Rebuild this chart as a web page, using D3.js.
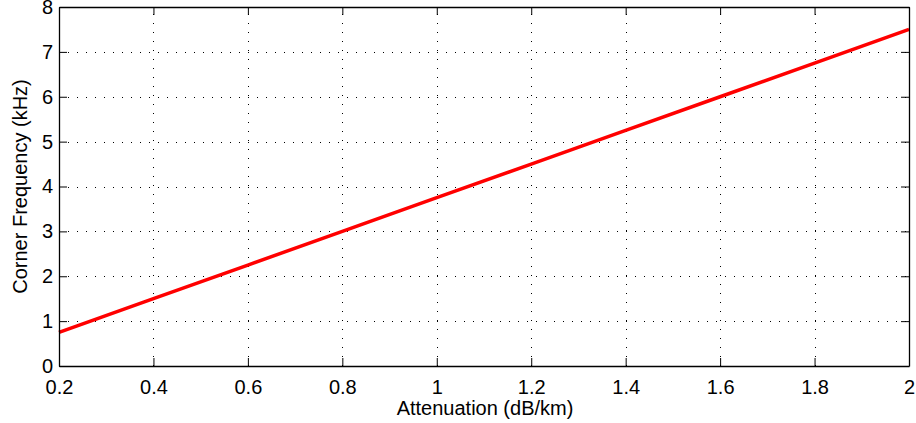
<!DOCTYPE html>
<html>
<head>
<meta charset="utf-8">
<script src="https://cdn.jsdelivr.net/npm/d3@7"></script>
<style>
  html, body { margin: 0; padding: 0; background: #fff; }
  svg text { font-family: "Liberation Sans", Arial, Helvetica, sans-serif; fill: #000; }
</style>
</head>
<body>
<svg id="chart" width="916" height="423"></svg>
<script>
// Corner frequency versus attenuation
const attenuation = [0.2, 0.4, 0.6, 0.8, 1.0, 1.2, 1.4, 1.6, 1.8, 2.0];
const cornerFreq  = [0.75, 1.5, 2.25, 3.0, 3.75, 4.5, 5.25, 6.0, 6.75, 7.5];
const xTicks = [0.2, 0.4, 0.6, 0.8, 1, 1.2, 1.4, 1.6, 1.8, 2];
const yTicks = [0, 1, 2, 3, 4, 5, 6, 7, 8];

const margin = { left: 59, right: 7, top: 7, bottom: 57 };
const W = 916, H = 423;
const fontSize = 20;
const svg = d3.select("#chart");

const x = d3.scaleLinear().domain([0.2, 2]).range([margin.left, W - margin.right]);
const y = d3.scaleLinear().domain([0, 8]).range([H - margin.bottom, margin.top]);

const x0 = x.range()[0], x1 = x.range()[1];
const y0 = y.range()[0], y1 = y.range()[1];

// dotted grid
const grid = svg.append("g").attr("stroke", "#000").attr("stroke-width", 1)
  .attr("stroke-dasharray", "1,8").attr("shape-rendering", "crispEdges");
grid.selectAll("line.vx").data(xTicks.slice(1, -1)).join("line")
  .attr("x1", d => Math.round(x(d)) + 0.5).attr("x2", d => Math.round(x(d)) + 0.5)
  .attr("y1", y0).attr("y2", y1);
grid.selectAll("line.hy").data(yTicks.slice(1, -1)).join("line")
  .attr("x1", x0).attr("x2", x1)
  .attr("y1", d => Math.round(y(d)) + 0.5).attr("y2", d => Math.round(y(d)) + 0.5);

// data line
const line = d3.line().x((d, i) => x(attenuation[i])).y(d => y(d));
svg.append("path").datum(cornerFreq)
  .attr("d", line).attr("fill", "none")
  .attr("stroke", "#ff0000").attr("stroke-width", 3.5);

// axes with inward ticks on all four sides
const tickLen = 8;
const axB = d3.axisBottom(x).tickValues(xTicks).tickSizeInner(-tickLen).tickSizeOuter(0).tickPadding(14)
  .tickFormat(d => d3.format("~g")(d));
const axT = d3.axisTop(x).tickValues(xTicks).tickSizeInner(-tickLen).tickSizeOuter(0).tickFormat("");
const axL = d3.axisLeft(y).tickValues(yTicks).tickSizeInner(-tickLen).tickSizeOuter(0).tickPadding(6);
const axR = d3.axisRight(y).tickValues(yTicks).tickSizeInner(-tickLen).tickSizeOuter(0).tickFormat("");

function style(g) {
  g.selectAll("path").attr("stroke", "#000").attr("stroke-width", 1.3);
  g.selectAll("line").attr("stroke", "#000").attr("stroke-width", 1);
  g.selectAll("text").attr("font-size", fontSize).attr("fill", "#000");
  g.attr("font-family", null);
}
svg.append("g").attr("transform", `translate(0,${y0})`).call(axB).call(style);
svg.append("g").attr("transform", `translate(0,${y1})`).call(axT).call(style);
svg.append("g").attr("transform", `translate(${x0},0)`).call(axL).call(style);
svg.append("g").attr("transform", `translate(${x1},0)`).call(axR).call(style);

// axis titles
svg.append("text").attr("x", (x0 + x1) / 2 + 1).attr("y", 415)
  .attr("text-anchor", "middle").attr("font-size", fontSize).text("Attenuation (dB/km)");
svg.append("text").attr("transform", `translate(27,${(y0 + y1) / 2}) rotate(-90)`)
  .attr("text-anchor", "middle").attr("font-size", fontSize).text("Corner Frequency (kHz)");
</script>
</body>
</html>
